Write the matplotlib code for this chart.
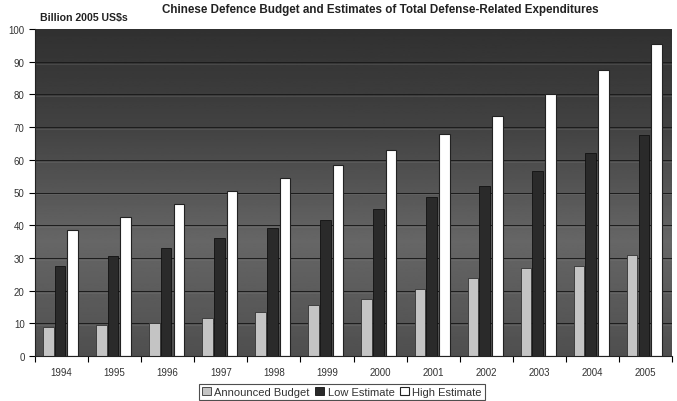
import numpy as np
import matplotlib.pyplot as plt
from matplotlib.patches import Patch

# Data (billion 2005 US$)
years = ["1994", "1995", "1996", "1997", "1998", "1999",
         "2000", "2001", "2002", "2003", "2004", "2005"]
announced = [9, 9.5, 10, 11.5, 13.5, 15.5, 17.5, 20.5, 24, 27, 27.5, 31]
low_est = [27.5, 30.5, 33, 36, 39, 41.5, 45, 48.5, 52, 56.5, 62, 67.5]
high_est = [38.5, 42.5, 46.5, 50.5, 54.5, 58.5, 63, 68, 73.5, 80, 87.5, 95.5]

plt.rcParams['font.family'] = ['Liberation Sans', 'DejaVu Sans']

fig = plt.figure(figsize=(6.77, 4.02), dpi=100)
ax = fig.add_axes([35 / 677, 45 / 402, 637 / 677, 327 / 402])

# Dark gradient background: dark at top, lighter mid-low, a little darker at floor
t = np.linspace(0, 1, 256)
shade = np.interp(t, [0, 0.3, 0.65, 1.0], [0.19, 0.26, 0.40, 0.31])
ax.imshow(shade.reshape(-1, 1), cmap="gray", vmin=0, vmax=1, aspect="auto",
          extent=(-0.5, 11.5, 0, 100), origin="upper", zorder=0)

# Gridlines
for v in range(10, 100, 10):
    ax.axhline(v, color="#1c1c1c", linewidth=0.7, zorder=1)
    ax.axhline(v - 0.6, color="#7a7a7a", linewidth=0.4, alpha=0.5, zorder=1)

x = np.arange(len(years))
w = 0.2
ax.bar(x - 0.25, announced, w, color="#c4c4c4", edgecolor="#333333", linewidth=0.6, zorder=2)
ax.bar(x - 0.03, low_est, w, color="#2a2a2a", edgecolor="#111111", linewidth=0.6, zorder=2)
ax.bar(x + 0.21, high_est, w, color="white", edgecolor="#222222", linewidth=0.8, zorder=2)

ax.set_xlim(-0.5, 11.5)
ax.set_ylim(0, 100)
ax.set_yticks(range(0, 101, 10))
ax.tick_params(axis="y", labelsize=7, labelcolor="#333333", length=4, width=0.8)
ax.set_xticks(x)
ax.set_xticklabels(years)
ax.set_xticks(np.arange(-0.5, 12, 1), minor=True)
ax.tick_params(axis="x", which="major", length=0, labelsize=7, labelcolor="#333333", pad=8)
ax.tick_params(axis="x", which="minor", length=4, width=0.8)
for s in ["top", "right"]:
    ax.spines[s].set_visible(False)
ax.spines["left"].set_color("#222222")
ax.spines["bottom"].set_color("#222222")

fig.text(380 / 677, 1 - 10 / 402, "Chinese Defence Budget and Estimates of Total Defense-Related Expenditures",
         ha="center", va="center", fontsize=8.4, fontweight="bold", color="#222222")
fig.text(40 / 677, 1 - 18 / 402, "Billion 2005 US$s", ha="left", va="center",
         fontsize=7.6, fontweight="bold", color="#222222")

handles = [Patch(facecolor="#c4c4c4", edgecolor="#333333", linewidth=0.6),
           Patch(facecolor="#2a2a2a", edgecolor="#111111", linewidth=0.6),
           Patch(facecolor="white", edgecolor="#222222", linewidth=0.8)]
leg = fig.legend(handles, ["Announced Budget", "Low Estimate", "High Estimate"],
                 loc="center", bbox_to_anchor=(342 / 677, 1 - 393 / 402), ncol=3,
                 fontsize=8, frameon=True, fancybox=False, handlelength=0.8,
                 handleheight=0.8, handletextpad=0.3, columnspacing=0.5,
                 borderpad=0.25, labelcolor="#333333")
leg.get_frame().set_edgecolor("#222222")
leg.get_frame().set_linewidth(0.8)

fig.savefig("out.png", dpi=100)
